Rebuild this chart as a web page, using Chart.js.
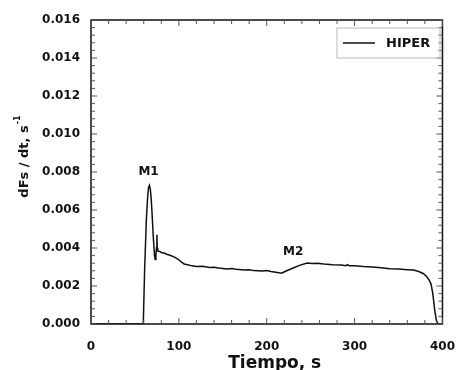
<!DOCTYPE html>
<html>
<head>
<meta charset="utf-8">
<script src="https://cdn.jsdelivr.net/npm/chart.js@4.4.1/dist/chart.umd.min.js"></script>
<style>
  html, body { margin: 0; padding: 0; background: #fff; }
  #wrap { width: 471px; height: 370px; }
</style>
</head>
<body>
<div id="wrap"><canvas id="rateChart" width="471" height="370"></canvas></div>
<script>
// ─── DATA ───────────────────────────────────────────────
const seriesName = 'HIPER';
const timeS = [0, 58, 59.5, 61, 63, 64.5, 65.5, 66.5, 67.5, 68.5, 69.5, 71, 72.3, 73, 73.8, 74.5, 75, 75.4, 76, 78,
  80, 83, 87, 90, 95, 100, 103, 106, 110, 115, 120, 127, 135, 140, 145, 155, 160, 165, 175, 180, 185, 195,
  200, 205, 212, 217, 222, 230, 238, 246, 252, 258, 265, 275, 285, 290, 292, 294, 300, 310, 320, 330,
  340, 350, 360, 367, 373, 378, 382, 385, 387, 389, 391, 393, 395, 400];
const rate = [0, 0, 0, 0.0028, 0.0055, 0.0067, 0.0072, 0.0073, 0.0071, 0.0066, 0.0058, 0.0045, 0.0036, 0.0034, 0.0036, 0.0040, 0.0047, 0.0040, 0.00385, 0.00382,
  0.00376, 0.00374, 0.00366, 0.00362, 0.00352, 0.00338, 0.00326, 0.00316, 0.00312, 0.00306, 0.00303, 0.00304, 0.00297, 0.00299, 0.00295, 0.00290, 0.00292, 0.00288, 0.00284, 0.00286, 0.00281, 0.00279,
  0.00281, 0.00276, 0.00271, 0.00267, 0.00279, 0.00295, 0.00310, 0.00321, 0.00318, 0.00320, 0.00316, 0.00312, 0.00310, 0.00307, 0.00312, 0.00306, 0.00307, 0.00302, 0.00300, 0.00296,
  0.00291, 0.00289, 0.00286, 0.00284, 0.00276, 0.00266, 0.00250, 0.00230, 0.00210, 0.00160, 0.00080, 0.00020, 0, 0];
const xTicks = [0, 100, 200, 300, 400];
const yTicks = [0, 0.002, 0.004, 0.006, 0.008, 0.010, 0.012, 0.014, 0.016];
const peakLabels = [{ text: 'M1', t: 65.5, v: 0.0080 }, { text: 'M2', t: 230, v: 0.00379 }];

const FONT = '"DejaVu Sans", Arial, sans-serif';

// frame, inward ticks, titles, labels and legend
const decor = {
  id: 'decor',
  afterDraw(chart) {
    const { ctx, chartArea: a, scales: { x, y } } = chart;
    ctx.save();
    ctx.strokeStyle = '#111';
    ctx.lineWidth = 1.5;
    ctx.strokeRect(a.left, a.top, a.right - a.left, a.bottom - a.top);

    ctx.lineWidth = 1;
    ctx.strokeStyle = '#555';
    for (let t = 0; t <= 400; t += 20) {
      const px = x.getPixelForValue(t);
      const len = t % 100 === 0 ? 6 : 4;
      ctx.beginPath();
      ctx.moveTo(px, a.bottom); ctx.lineTo(px, a.bottom - len);
      ctx.moveTo(px, a.top); ctx.lineTo(px, a.top + len);
      ctx.stroke();
    }
    for (let i = 0; i <= 40; i++) {
      const py = y.getPixelForValue(i * 0.0004);
      const len = i % 5 === 0 ? 6 : 4;
      ctx.beginPath();
      ctx.moveTo(a.left, py); ctx.lineTo(a.left + len, py);
      ctx.moveTo(a.right, py); ctx.lineTo(a.right - len, py);
      ctx.stroke();
    }

    ctx.fillStyle = '#111';
    // peak labels
    ctx.font = 'bold 12px ' + FONT;
    ctx.textAlign = 'center';
    ctx.textBaseline = 'middle';
    peakLabels.forEach(p => ctx.fillText(p.text, x.getPixelForValue(p.t), y.getPixelForValue(p.v)));

    // x title
    ctx.font = 'bold 17px ' + FONT;
    ctx.textBaseline = 'alphabetic';
    ctx.fillText('Tiempo, s', (a.left + a.right) / 2 + 8, 368);

    // y title with superscript
    ctx.save();
    ctx.translate(28, 157);
    ctx.rotate(-Math.PI / 2);
    const main = 'dFs / dt, s';
    ctx.font = 'bold 13px ' + FONT;
    const w1 = ctx.measureText(main).width;
    ctx.font = 'bold 8px ' + FONT;
    const w2 = ctx.measureText('-1').width;
    const start = -(w1 + w2) / 2;
    ctx.textAlign = 'left';
    ctx.font = 'bold 13px ' + FONT;
    ctx.fillText(main, start, 0);
    ctx.font = 'bold 8px ' + FONT;
    ctx.fillText('-1', start + w1 + 1, -8);
    ctx.restore();

    // legend box
    ctx.strokeStyle = '#bbb';
    ctx.lineWidth = 1;
    ctx.strokeRect(337, 28, 103, 30);
    ctx.strokeStyle = '#111';
    ctx.lineWidth = 1.5;
    ctx.beginPath();
    ctx.moveTo(343, 43); ctx.lineTo(375, 43);
    ctx.stroke();
    ctx.font = 'bold 13px ' + FONT;
    ctx.textAlign = 'left';
    ctx.textBaseline = 'middle';
    ctx.fillText(seriesName, 386, 44);
    ctx.restore();
  }
};

function initRateChart() {
  const canvas = document.getElementById('rateChart');
  const ctx = canvas.getContext('2d');
  new Chart(ctx, {
    type: 'line',
    data: {
      datasets: [{
        label: seriesName,
        data: timeS.map((t, i) => ({ x: t, y: rate[i] })),
        borderColor: '#111',
        borderWidth: 1.5,
        pointRadius: 0,
        tension: 0,
        fill: false,
      }]
    },
    options: {
      responsive: false,
      animation: false,
      layout: { padding: { top: 20, right: 16, bottom: 0, left: 0 } },
      plugins: { legend: { display: false }, tooltip: { enabled: false } },
      scales: {
        x: {
          type: 'linear',
          min: 0, max: 400,
          afterBuildTicks: s => { s.ticks = xTicks.map(v => ({ value: v })); },
          afterFit: s => { s.height = 46; },
          grid: { display: false, drawTicks: false },
          border: { display: false },
          ticks: {
            color: '#111', padding: 16,
            font: { family: FONT, size: 12, weight: 'bold' },
            maxRotation: 0
          }
        },
        y: {
          min: 0, max: 0.016,
          afterBuildTicks: s => { s.ticks = yTicks.map(v => ({ value: v })); },
          afterFit: s => { s.width = 91; },
          grid: { display: false, drawTicks: false },
          border: { display: false },
          ticks: {
            color: '#111', padding: 11,
            font: { family: FONT, size: 12, weight: 'bold' },
            callback: v => v.toFixed(3)
          }
        }
      }
    },
    plugins: [decor]
  });
}

document.addEventListener('DOMContentLoaded', initRateChart);
</script>
</body>
</html>
